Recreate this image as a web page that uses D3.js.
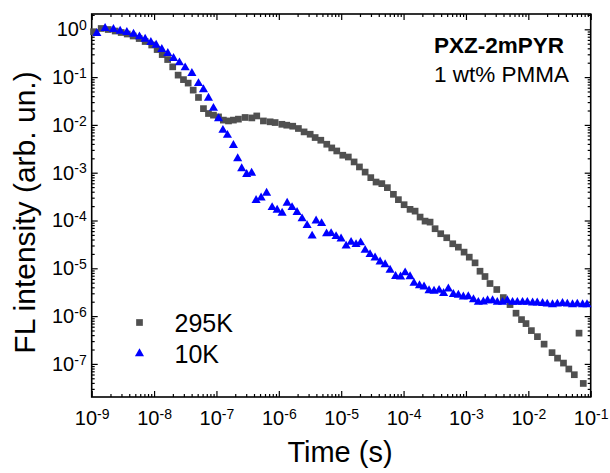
<!DOCTYPE html>
<html>
<head>
<meta charset="utf-8">
<script src="https://cdn.jsdelivr.net/npm/d3@7"></script>
<style>
    body { margin: 0; background: #fff; }
    text { font-family: "Liberation Sans", Arial, sans-serif; fill: #000; }
</style>
</head>
<body>
<svg id="decay" width="610" height="473"></svg>
<script>
// time (s), FL intensity (arb. un.)
var decay295K = [
    [1.07e-9, 0.89], [1.42e-9, 1.04], [1.84e-9, 0.99], [2.38e-9, 0.92], [2.97e-9, 0.857],
    [3.71e-9, 0.797], [4.62e-9, 0.724], [5.77e-9, 0.641], [7.19e-9, 0.555], [9.16e-9, 0.469],
    [1.12e-8, 0.377], [1.35e-8, 0.296], [1.65e-8, 0.233], [1.99e-8, 0.164], [2.43e-8, 0.110],
    [2.96e-8, 0.0886], [3.52e-8, 0.0749], [4.24e-8, 0.0534], [5.15e-8, 0.0375], [6.19e-8, 0.0219],
    [7.45e-8, 0.0173], [8.95e-8, 0.0160], [1.08e-7, 0.0147], [1.29e-7, 0.0126], [1.56e-7, 0.0121],
    [1.87e-7, 0.0126], [2.25e-7, 0.0132], [2.88e-7, 0.0143], [3.69e-7, 0.0140], [4.43e-7, 0.0154],
    [5.66e-7, 0.0121], [7.26e-7, 0.0116], [8.73e-7, 0.0112], [1.12e-6, 0.0103], [1.34e-6, 0.00986],
    [1.67e-6, 0.00939], [2.06e-6, 0.00841], [2.54e-6, 0.00714], [3.18e-6, 0.00638], [3.82e-6, 0.00544],
    [4.71e-6, 0.00478], [5.87e-6, 0.00394], [7.06e-6, 0.00330], [8.49e-6, 0.00285], [1.06e-5, 0.00232],
    [1.30e-5, 0.00213], [1.61e-5, 0.00168], [1.96e-5, 0.00132], [2.42e-5, 0.00103], [2.98e-5, 7.89e-4],
    [3.62e-5, 6.38e-4], [4.48e-5, 5.91e-4], [5.50e-5, 4.87e-4], [6.87e-5, 3.53e-4], [8.26e-5, 2.73e-4],
    [1.02e-4, 2.14e-4], [1.27e-4, 1.71e-4], [1.53e-4, 1.57e-4], [1.84e-4, 1.18e-4], [2.21e-4, 9.71e-5],
    [2.66e-4, 9.25e-5], [3.20e-4, 6.73e-5], [3.94e-4, 5.29e-5], [4.92e-4, 4.36e-5], [6.14e-4, 3.26e-5],
    [7.55e-4, 2.77e-5], [9.33e-4, 2.18e-5], [1.13e-3, 1.71e-5], [1.40e-3, 1.30e-5], [1.68e-3, 8.69e-6],
    [2.02e-3, 6.73e-6], [2.43e-3, 4.80e-6], [3.12e-3, 3.60e-6], [3.97e-3, 2.44e-6], [5.09e-3, 1.74e-6],
    [6.35e-3, 1.15e-6], [7.78e-3, 8.45e-7], [9.18e-3, 6.97e-7], [1.12e-2, 4.97e-7], [1.40e-2, 3.72e-7],
    [1.79e-2, 2.59e-7], [2.40e-2, 1.72e-7], [2.94e-2, 1.32e-7], [3.66e-2, 1.04e-7], [4.46e-2, 7.82e-8],
    [5.46e-2, 5.94e-8], [6.50e-2, 4.40e-7], [7.60e-2, 3.90e-8]
];

var decay10K = [
    [1.21e-9, 0.824], [1.64e-9, 1.05], [2.23e-9, 1.0], [2.86e-9, 0.92], [3.66e-9, 0.865],
    [4.68e-9, 0.797], [5.83e-9, 0.70], [7.19e-9, 0.626], [8.89e-9, 0.534], [1.08e-8, 0.469],
    [1.33e-8, 0.381], [1.66e-8, 0.314], [2.05e-8, 0.247], [2.55e-8, 0.20], [3.15e-8, 0.157],
    [4.04e-8, 0.120], [5.15e-8, 0.0738], [6.19e-8, 0.0547], [7.45e-8, 0.0363], [8.95e-8, 0.0224],
    [1.08e-7, 0.0136], [1.27e-7, 0.00774], [1.50e-7, 0.00608], [1.87e-7, 0.00375], [2.19e-7, 0.00198],
    [2.54e-7, 0.00122], [3.05e-7, 9.25e-4], [3.66e-7, 9.86e-4], [4.32e-7, 2.64e-4], [5.20e-7, 2.98e-4],
    [6.37e-7, 3.75e-4], [7.81e-7, 1.88e-4], [9.40e-7, 1.65e-4], [1.13e-6, 1.43e-4], [1.36e-6, 2.32e-4],
    [1.63e-6, 1.88e-4], [1.96e-6, 1.48e-4], [2.36e-6, 1.09e-4], [2.84e-6, 7.89e-5], [3.42e-6, 4.75e-5],
    [3.96e-6, 9.82e-5], [4.85e-6, 8.69e-5], [5.83e-6, 5.29e-5], [6.89e-6, 5.37e-5], [8.28e-6, 4.65e-5],
    [9.95e-6, 4.15e-5], [1.20e-5, 2.94e-5], [1.44e-5, 3.52e-5], [1.73e-5, 3.15e-5], [2.05e-5, 3.44e-5],
    [2.42e-5, 2.39e-5], [2.90e-5, 1.95e-5], [3.49e-5, 1.66e-5], [4.20e-5, 1.37e-5], [5.06e-5, 1.20e-5],
    [6.08e-5, 9.21e-6], [7.45e-5, 6.79e-6], [8.95e-5, 6.64e-6], [1.06e-4, 8.09e-6], [1.27e-4, 6.73e-6],
    [1.47e-4, 4.88e-6], [1.80e-4, 4.36e-6], [2.13e-4, 4.09e-6], [2.56e-4, 3.43e-6], [3.08e-4, 3.34e-6],
    [3.71e-4, 3.49e-6], [4.38e-4, 2.99e-6], [5.22e-4, 3.72e-6], [6.28e-4, 2.86e-6], [7.55e-4, 2.75e-6],
    [9.08e-4, 2.53e-6], [1.09e-3, 2.56e-6], [1.32e-3, 2.22e-6], [1.58e-3, 1.95e-6], [1.90e-3, 1.99e-6],
    [2.22e-3, 2.11e-6], [2.67e-3, 2.11e-6], [3.18e-3, 1.95e-6], [3.86e-3, 1.95e-6], [4.60e-3, 2.11e-6],
    [5.58e-3, 1.95e-6], [6.67e-3, 1.95e-6], [8.07e-3, 1.95e-6], [9.64e-3, 1.95e-6], [1.17e-2, 1.89e-6],
    [1.39e-2, 1.89e-6], [1.69e-2, 1.85e-6], [2.01e-2, 1.80e-6], [2.44e-2, 1.74e-6], [2.92e-2, 1.80e-6],
    [3.53e-2, 1.85e-6], [4.22e-2, 1.80e-6], [5.11e-2, 1.74e-6], [6.10e-2, 1.80e-6], [7.40e-2, 1.74e-6],
    [8.73e-2, 1.74e-6]
];

var xTicks = [1e-9, 1e-8, 1e-7, 1e-6, 1e-5, 1e-4, 1e-3, 1e-2, 1e-1];
var yTicks = [1e-7, 1e-6, 1e-5, 1e-4, 1e-3, 1e-2, 1e-1, 1e0];
var seriesNames = ["295K", "10K"];
var seriesColors = ["#505050", "#0000ff"];

function drawDecay() {
    var svg = d3.select("svg#decay"),
        margin = { top: 14, right: 19.3, bottom: 76, left: 91.7 },
        width = svg.attr("width") - margin.left - margin.right,
        height = svg.attr("height") - margin.top - margin.bottom,
        g = svg
            .append("g")
            .attr("transform", "translate(" + margin.left + "," + margin.top + ")");

    var x = d3.scaleLog().domain([1e-9, 1e-1]).range([0, width]);
    var y = d3.scaleLog().domain([2.03e-8, 2.09]).range([height, 0]);

    var isMajor = function(v) {
        return Math.abs(Math.log10(v) - Math.round(Math.log10(v))) < 1e-6;
    };
    var xMinor = x.ticks().filter(v => !isMajor(v));
    var yMinor = y.ticks().filter(v => !isMajor(v));

    function powerLabel(sel) {
        sel.selectAll(".tick text").each(function(d) {
            var t = d3.select(this).text("");
            t.append("tspan").text("10");
            t.append("tspan")
                .attr("dy", "-0.45em")
                .style("font-size", "14px")
                .text(Math.round(Math.log10(d)));
        });
    }

    // major + minor ticks on all four sides, pointing inward
    var axes = [
        { ax: d3.axisBottom, sc: x, minor: xMinor, major: xTicks, tr: "translate(0," + height + ")", label: true },
        { ax: d3.axisTop, sc: x, minor: xMinor, major: xTicks, tr: null, label: false },
        { ax: d3.axisLeft, sc: y, minor: yMinor, major: yTicks, tr: null, label: true },
        { ax: d3.axisRight, sc: y, minor: yMinor, major: yTicks, tr: "translate(" + width + ",0)", label: false }
    ];

    axes.forEach(function(a) {
        var gm = g.append("g").attr("class", "axis");
        if (a.tr) gm.attr("transform", a.tr);
        gm.call(a.ax(a.sc).tickValues(a.minor).tickSize(-3).tickFormat(""));
        gm.select(".domain").remove();

        var gM = g.append("g").attr("class", "axis");
        if (a.tr) gM.attr("transform", a.tr);
        gM.call(
            a.ax(a.sc)
                .tickValues(a.major)
                .tickSize(-6)
                .tickPadding(a.ax === d3.axisBottom ? 14 : 5)
                .tickFormat(a.label ? d => d : "")
        );
        gM.select(".domain").remove();
        if (a.label) powerLabel(gM);
    });

    g.selectAll(".axis line").attr("stroke", "#000").attr("stroke-width", 1.2);
    g.selectAll(".axis text")
        .attr("font-family", "Liberation Sans, Arial, sans-serif")
        .attr("font-size", "20px")
        .attr("fill", "#000");

    g.append("rect")
        .attr("width", width)
        .attr("height", height)
        .attr("fill", "none")
        .attr("stroke", "#000")
        .attr("stroke-width", 1.6);

    var square = d3.symbol().type(d3.symbolSquare).size(45);
    var triangle = d3.symbol().type(d3.symbolTriangle).size(36);

    g.append("g")
        .selectAll("path")
        .data(decay295K)
        .enter()
        .append("path")
        .attr("transform", d => "translate(" + x(d[0]) + "," + y(d[1]) + ")")
        .attr("d", square)
        .attr("fill", seriesColors[0]);

    g.append("g")
        .selectAll("path")
        .data(decay10K)
        .enter()
        .append("path")
        .attr("transform", d => "translate(" + x(d[0]) + "," + y(d[1]) + ")")
        .attr("d", triangle)
        .attr("fill", seriesColors[1]);

    // legend
    var legend = svg
        .append("g")
        .attr("class", "legend")
        .selectAll("g")
        .data(seriesNames)
        .enter()
        .append("g")
        .attr("transform", (d, i) => "translate(139.5," + (322.5 + i * 31) + ")");

    legend
        .append("path")
        .attr("d", (d, i) => (i === 0 ? square : triangle)())
        .attr("fill", (d, i) => seriesColors[i]);

    legend
        .append("text")
        .attr("x", 35)
        .attr("y", 9.5)
        .attr("font-size", "25px")
        .text(d => d);

    // sample label
    svg.append("text")
        .attr("x", 434)
        .attr("y", 52.5)
        .attr("font-size", "22.5px")
        .attr("font-weight", "bold")
        .text("PXZ-2mPYR");

    svg.append("text")
        .attr("x", 434)
        .attr("y", 81.5)
        .attr("font-size", "22.5px")
        .text("1 wt% PMMA");

    // axis titles
    svg.append("text")
        .attr("x", 340)
        .attr("y", 462)
        .attr("text-anchor", "middle")
        .attr("font-size", "29px")
        .text("Time (s)");

    svg.append("text")
        .attr("transform", "translate(35,212.5) rotate(-90)")
        .attr("text-anchor", "middle")
        .attr("font-size", "30px")
        .text("FL intensity (arb. un.)");
}

drawDecay();
</script>
</body>
</html>
